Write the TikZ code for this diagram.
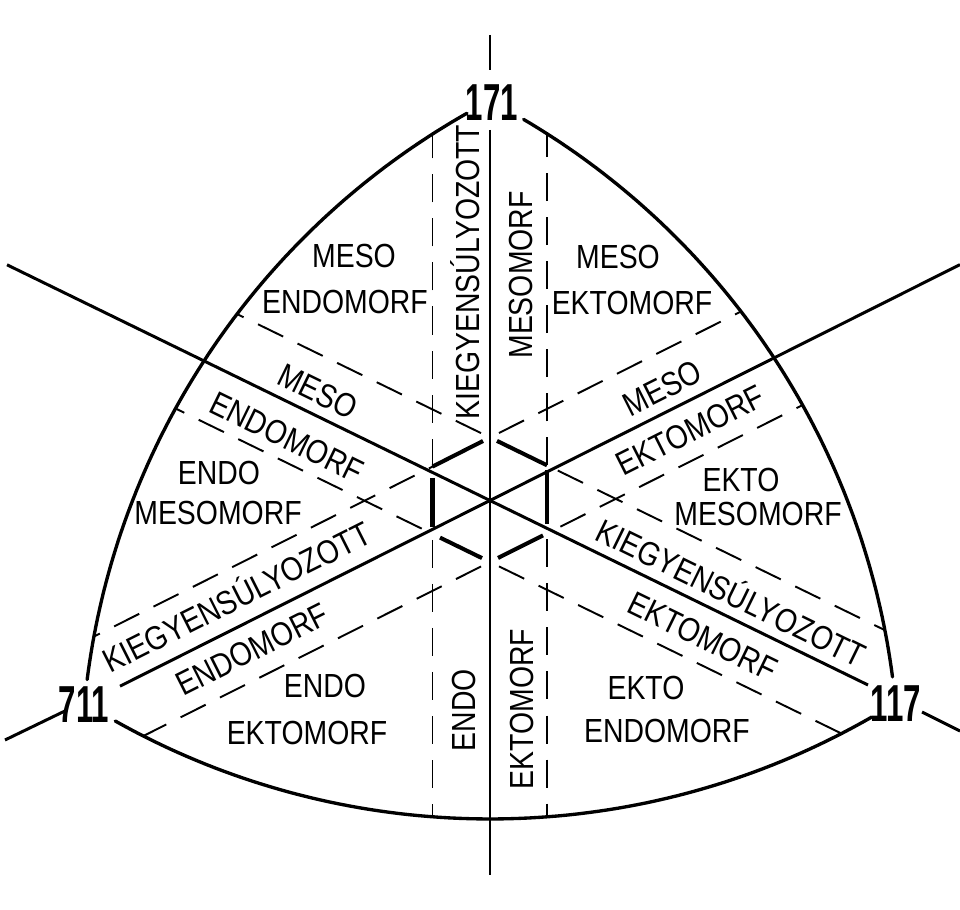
\documentclass[tikz,border=0pt]{standalone}
\usepackage{fontspec}
\setmainfont{Liberation Sans}
\usepackage{graphicx}
\newcommand{\mylbl}[1]{\scalebox{0.85}[1]{#1}}
\newcommand{\myvtx}[1]{\scalebox{0.6}[1]{#1}}
\begin{document}
\begin{tikzpicture}[x=0.01cm,y=-0.01cm,
  axis/.style={line width=0.85pt},
  arcline/.style={line width=0.95pt, line cap=round},
  dsh/.style={line width=0.55pt, dash pattern=on 0.28cm off 0.16cm},
  hexside/.style={line width=1.15pt},
  lbl/.style={inner sep=0pt, font=\fontsize{9.5}{11}\selectfont, text height=6.8pt, text depth=0pt},
  vtx/.style={inner sep=0pt, font=\fontsize{14.8}{16}\selectfont\bfseries, text height=10.6pt, text depth=0pt}
]
\fill[white] (0,0) rectangle (960,910);
\useasboundingbox (0,0) rectangle (960,910);

% ---- outer arcs
\draw[arcline] plot[domain=119.57:172.73, samples=80, variable=\t] ({843+762*cos(-\t)},{776+762*sin(-\t)});
\draw[arcline] plot[domain=7.47:59.51, samples=80, variable=\t] ({137+762*cos(-\t)},{776+762*sin(-\t)});
\draw[arcline] plot[domain=60.11:119.29, samples=80, variable=\t] ({490+766*cos(\t)},{53+766*sin(\t)});

% ---- hexagon corners
\coordinate (H1) at (432.5,466.6);
\coordinate (H2) at (490,437.5);
\coordinate (H3) at (547,465.3);
\coordinate (H4) at (547,533.4);
\coordinate (H5) at (490,562);
\coordinate (H6) at (432.5,533.9);

% ---- far points for dashed lines
\coordinate (VLt) at (432.5,0);   \coordinate (VLb) at (432.5,1000);
\coordinate (VRt) at (547,0);     \coordinate (VRb) at (547,1000);
\coordinate (AUl) at (-110,144.7); \coordinate (AUr) at (1147,758.1);
\coordinate (ALl) at (-167.5,241.1); \coordinate (ALr) at (1090,854.8);
\coordinate (BUl) at (-167.5,767.8); \coordinate (BUr) at (1090,136.3);
\coordinate (BLl) at (-110,863.2); \coordinate (BLr) at (1147,232.2);

\begin{scope}
\clip plot[domain=117.6:174.5, samples=60, variable=\t] ({843+762*cos(-\t)},{776+762*sin(-\t)})
  -- plot[domain=58.1:121.9, samples=60, variable=\t] ({490+766*cos(180-\t)},{53+766*sin(180-\t)})
  -- plot[domain=5.5:62.4, samples=60, variable=\t] ({137+762*cos(-\t)},{776+762*sin(-\t)}) -- cycle;
\draw[dsh] (H1) -- (VLt);
\draw[dsh, dash phase=0.38cm] (H6) -- (VLb);
\draw[dsh] (H3) -- (VRt);
\draw[dsh, dash phase=0.38cm] (H4) -- (VRb);
\draw[dsh, dash phase=0.34cm] (H2) -- (AUl);
\draw[dsh, dash phase=0.32cm] (H3) -- (AUr);
\draw[dsh, dash phase=0.32cm] (H6) -- (ALl);
\draw[dsh, dash phase=0.34cm] (H5) -- (ALr);
\draw[dsh, dash phase=0.24cm] (H1) -- (BUl);
\draw[dsh, dash phase=0.34cm] (H2) -- (BUr);
\draw[dsh, dash phase=0.34cm] (H5) -- (BLl);
\draw[dsh, dash phase=0.29cm] (H4) -- (BLr);
\end{scope}

% ---- thick hexagon sides
\draw[hexside] (H1) -- (483,441);
\draw[hexside] (497,440.9) -- (H3);
\draw[hexside] (547,470) -- (547,524);
\draw[hexside] (543,535.4) -- (498,558);
\draw[hexside] (482,558.1) -- (440,537.6);
\draw[hexside] (432.5,478) -- (432.5,527);

% ---- axes
\coordinate (V1) at (490,35);  \coordinate (V2) at (490,70);
\coordinate (V3) at (490,130); \coordinate (V4) at (490,875);
\coordinate (A1) at (7,264.8); \coordinate (A2) at (868,685);
\coordinate (A3) at (922,712); \coordinate (A4) at (960,731);
\coordinate (B1) at (960,264.6); \coordinate (B2) at (120,686.2);
\coordinate (B3) at (67,710);  \coordinate (B4) at (5,740);
\draw[axis] (V1) -- (V2);
\draw[axis] (V3) -- (V4);
\draw[axis] (A1) -- (A2);
\draw[axis] (A3) -- (A4);
\draw[axis] (B1) -- (B2);
\draw[axis] (B3) -- (B4);

% ---- vertex labels
\node[vtx] (n171) at (492,101.5) {\myvtx{171}};
\node[vtx] (n711) at (84,704) {\myvtx{711}};
\node[vtx] (n117) at (896,702.5) {\myvtx{117}};

% ---- region labels
\node[lbl] (t1) at (354,256) {\mylbl{MESO}};
\node[lbl] (t2) at (345,302) {\mylbl{ENDOMORF}};
\node[lbl] (t3) at (618,257) {\mylbl{MESO}};
\node[lbl] (t4) at (632,303) {\mylbl{EKTOMORF}};
\node[lbl] (t5) at (219,473) {\mylbl{ENDO}};
\node[lbl] (t6) at (218,513) {\mylbl{MESOMORF}};
\node[lbl] (t7) at (741,480) {\mylbl{EKTO}};
\node[lbl] (t8) at (758,514) {\mylbl{MESOMORF}};
\node[lbl] (t9) at (325,686) {\mylbl{ENDO}};
\node[lbl] (t10) at (307,733) {\mylbl{EKTOMORF}};
\node[lbl] (t11) at (646,688) {\mylbl{EKTO}};
\node[lbl] (t12) at (667,731) {\mylbl{ENDOMORF}};

% ---- band labels
\node[lbl, rotate=90] (v1) at (468,272) {\mylbl{KIEGYENSÚLYOZOTT}};
\node[lbl, rotate=90] (v2) at (521,275) {\mylbl{MESOMORF}};
\node[lbl, rotate=90] (v3) at (464,710) {\mylbl{ENDO}};
\node[lbl, rotate=90] (v4) at (522,709) {\mylbl{EKTOMORF}};

\node[lbl, rotate=-26] (b1) at (318,391) {\mylbl{MESO}};
\node[lbl, rotate=-26] (b2) at (287,437) {\mylbl{ENDOMORF}};
\node[lbl, rotate=26.7] (b3) at (662,388) {\mylbl{MESO}};
\node[lbl, rotate=26.7] (b4) at (690,430) {\mylbl{EKTOMORF}};
\node[lbl, rotate=26.7] (b5) at (237,597) {\mylbl{KIEGYENSÚLYOZOTT}};
\node[lbl, rotate=26.7] (b6) at (252,649) {\mylbl{ENDOMORF}};
\node[lbl, rotate=-26] (b7) at (731,593) {\mylbl{KIEGYENSÚLYOZOTT}};
\node[lbl, rotate=-26] (b8) at (703,636) {\mylbl{EKTOMORF}};
\end{tikzpicture}
\end{document}
